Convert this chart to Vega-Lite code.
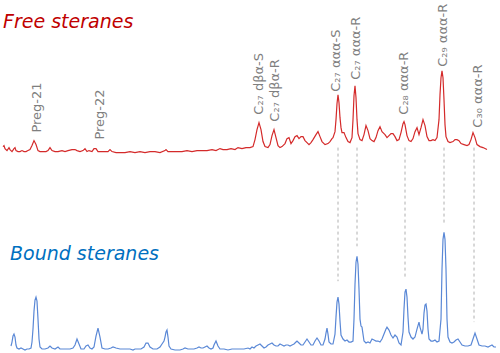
{
  "$schema": "https://vega.github.io/schema/vega-lite/v6.json",
  "width": 500,
  "height": 353,
  "padding": 0,
  "autosize": {"type": "fit", "contains": "padding"},
  "config": {"view": {"stroke": null}},
  "datasets": {
    "free": [
      {"t":3,"v":206},{"t":4,"v":207},{"t":5,"v":204},{"t":7,"v":202},{"t":9,"v":205},{"t":10,"v":203},{"t":12,"v":201},{"t":14,"v":204},{"t":15,"v":205},{"t":16,"v":202},{"t":18,"v":201},{"t":20,"v":201},{"t":22,"v":202},{"t":24,"v":201},{"t":26,"v":201},{"t":28,"v":202},{"t":30,"v":203},{"t":32,"v":207},{"t":34,"v":212},{"t":36,"v":208},{"t":38,"v":202},{"t":40,"v":201},{"t":43,"v":201},{"t":46,"v":201},{"t":48,"v":202},{"t":50,"v":205},{"t":52,"v":202},{"t":55,"v":201},{"t":58,"v":201},{"t":62,"v":202},{"t":65,"v":201},{"t":68,"v":202},{"t":72,"v":203},{"t":75,"v":203},{"t":77,"v":202},{"t":80,"v":201},{"t":83,"v":202},{"t":85,"v":204},{"t":87,"v":201},{"t":89,"v":202},{"t":92,"v":201},{"t":94,"v":204},{"t":96,"v":204},{"t":98,"v":201},{"t":100,"v":201},{"t":104,"v":201},{"t":108,"v":201},{"t":110,"v":203},{"t":112,"v":201},{"t":116,"v":200},{"t":120,"v":200},{"t":125,"v":200},{"t":130,"v":201},{"t":135,"v":200},{"t":140,"v":201},{"t":145,"v":200},{"t":150,"v":201},{"t":155,"v":201},{"t":160,"v":200},{"t":165,"v":202},{"t":166,"v":203},{"t":168,"v":201},{"t":172,"v":201},{"t":177,"v":201},{"t":182,"v":201},{"t":187,"v":202},{"t":192,"v":201},{"t":197,"v":202},{"t":202,"v":202},{"t":207,"v":202},{"t":212,"v":203},{"t":216,"v":202},{"t":220,"v":204},{"t":223,"v":203},{"t":227,"v":203},{"t":231,"v":204},{"t":235,"v":203},{"t":238,"v":205},{"t":242,"v":204},{"t":246,"v":205},{"t":250,"v":205},{"t":253,"v":206},{"t":255,"v":213},{"t":257,"v":223},{"t":259,"v":230},{"t":261,"v":223},{"t":263,"v":211},{"t":265,"v":206},{"t":268,"v":205},{"t":270,"v":208},{"t":272,"v":217},{"t":274,"v":223},{"t":276,"v":215},{"t":278,"v":207},{"t":280,"v":205},{"t":282,"v":206},{"t":285,"v":209},{"t":287,"v":214},{"t":289,"v":215},{"t":291,"v":209},{"t":293,"v":212},{"t":295,"v":216},{"t":297,"v":217},{"t":299,"v":214},{"t":301,"v":216},{"t":303,"v":216},{"t":305,"v":212},{"t":307,"v":210},{"t":309,"v":208},{"t":311,"v":210},{"t":313,"v":213},{"t":316,"v":218},{"t":318,"v":221},{"t":320,"v":216},{"t":322,"v":211},{"t":325,"v":208},{"t":328,"v":209},{"t":330,"v":211},{"t":332,"v":214},{"t":333,"v":215},{"t":335,"v":221},{"t":336,"v":233},{"t":337,"v":249},{"t":338,"v":258},{"t":339,"v":250},{"t":340,"v":235},{"t":341,"v":225},{"t":342,"v":220},{"t":344,"v":220},{"t":346,"v":215},{"t":348,"v":211},{"t":350,"v":210},{"t":352,"v":215},{"t":353,"v":233},{"t":354,"v":257},{"t":355,"v":267},{"t":356,"v":255},{"t":357,"v":233},{"t":358,"v":219},{"t":360,"v":213},{"t":362,"v":212},{"t":364,"v":218},{"t":366,"v":227},{"t":368,"v":222},{"t":370,"v":214},{"t":372,"v":212},{"t":374,"v":211},{"t":376,"v":215},{"t":378,"v":222},{"t":380,"v":226},{"t":382,"v":221},{"t":384,"v":219},{"t":385,"v":218},{"t":387,"v":215},{"t":389,"v":217},{"t":391,"v":219},{"t":393,"v":219},{"t":395,"v":216},{"t":397,"v":212},{"t":399,"v":213},{"t":401,"v":220},{"t":403,"v":229},{"t":404,"v":231},{"t":405,"v":228},{"t":407,"v":217},{"t":409,"v":212},{"t":411,"v":211},{"t":413,"v":214},{"t":415,"v":221},{"t":417,"v":225},{"t":419,"v":218},{"t":421,"v":225},{"t":423,"v":233},{"t":425,"v":227},{"t":427,"v":216},{"t":429,"v":212},{"t":431,"v":212},{"t":433,"v":213},{"t":435,"v":212},{"t":437,"v":215},{"t":439,"v":233},{"t":440,"v":258},{"t":441,"v":275},{"t":442,"v":282},{"t":443,"v":275},{"t":444,"v":253},{"t":445,"v":228},{"t":446,"v":216},{"t":448,"v":211},{"t":450,"v":210},{"t":453,"v":211},{"t":455,"v":213},{"t":457,"v":213},{"t":459,"v":212},{"t":461,"v":209},{"t":464,"v":208},{"t":467,"v":207},{"t":469,"v":208},{"t":471,"v":213},{"t":473,"v":220},{"t":475,"v":215},{"t":477,"v":208},{"t":480,"v":206},{"t":483,"v":205},{"t":487,"v":203}
    ],
    "bound": [
      {"t":11,"v":6},{"t":12,"v":10},{"t":13,"v":16},{"t":14,"v":18},{"t":15,"v":15},{"t":16,"v":7},{"t":17,"v":4},{"t":19,"v":3},{"t":21,"v":4},{"t":23,"v":3},{"t":25,"v":2},{"t":27,"v":3},{"t":29,"v":3},{"t":31,"v":4},{"t":32,"v":10},{"t":33,"v":23},{"t":34,"v":41},{"t":35,"v":52},{"t":36,"v":55},{"t":37,"v":51},{"t":38,"v":33},{"t":39,"v":13},{"t":40,"v":5},{"t":42,"v":3},{"t":45,"v":3},{"t":48,"v":4},{"t":50,"v":6},{"t":52,"v":4},{"t":55,"v":3},{"t":58,"v":5},{"t":60,"v":3},{"t":63,"v":3},{"t":67,"v":3},{"t":70,"v":3},{"t":73,"v":4},{"t":75,"v":7},{"t":77,"v":13},{"t":79,"v":8},{"t":81,"v":3},{"t":84,"v":3},{"t":86,"v":6},{"t":88,"v":7},{"t":90,"v":4},{"t":92,"v":3},{"t":94,"v":5},{"t":96,"v":16},{"t":98,"v":24},{"t":100,"v":15},{"t":102,"v":4},{"t":105,"v":3},{"t":108,"v":3},{"t":111,"v":4},{"t":113,"v":5},{"t":116,"v":4},{"t":120,"v":3},{"t":125,"v":3},{"t":130,"v":3},{"t":133,"v":2},{"t":135,"v":3},{"t":138,"v":3},{"t":141,"v":3},{"t":144,"v":5},{"t":146,"v":9},{"t":148,"v":9},{"t":150,"v":5},{"t":153,"v":3},{"t":157,"v":3},{"t":160,"v":5},{"t":162,"v":8},{"t":164,"v":11},{"t":165,"v":15},{"t":166,"v":20},{"t":167,"v":22},{"t":168,"v":15},{"t":169,"v":6},{"t":171,"v":3},{"t":175,"v":2},{"t":180,"v":2},{"t":183,"v":3},{"t":185,"v":4},{"t":188,"v":3},{"t":191,"v":3},{"t":194,"v":3},{"t":197,"v":4},{"t":199,"v":5},{"t":201,"v":4},{"t":203,"v":4},{"t":205,"v":5},{"t":207,"v":6},{"t":209,"v":4},{"t":211,"v":3},{"t":213,"v":4},{"t":214,"v":7},{"t":216,"v":11},{"t":218,"v":6},{"t":220,"v":3},{"t":224,"v":3},{"t":228,"v":2},{"t":232,"v":3},{"t":236,"v":3},{"t":240,"v":3},{"t":244,"v":3},{"t":248,"v":4},{"t":250,"v":3},{"t":252,"v":5},{"t":254,"v":4},{"t":256,"v":6},{"t":258,"v":7},{"t":260,"v":8},{"t":262,"v":6},{"t":264,"v":4},{"t":266,"v":5},{"t":268,"v":7},{"t":270,"v":8},{"t":272,"v":9},{"t":274,"v":7},{"t":276,"v":6},{"t":278,"v":6},{"t":280,"v":8},{"t":282,"v":7},{"t":284,"v":6},{"t":286,"v":7},{"t":288,"v":7},{"t":290,"v":6},{"t":292,"v":7},{"t":294,"v":8},{"t":296,"v":10},{"t":297,"v":11},{"t":299,"v":9},{"t":301,"v":7},{"t":303,"v":7},{"t":305,"v":10},{"t":307,"v":13},{"t":309,"v":10},{"t":311,"v":7},{"t":313,"v":7},{"t":315,"v":11},{"t":317,"v":14},{"t":319,"v":11},{"t":321,"v":7},{"t":323,"v":7},{"t":325,"v":13},{"t":326,"v":19},{"t":327,"v":24},{"t":328,"v":18},{"t":329,"v":10},{"t":331,"v":8},{"t":333,"v":8},{"t":335,"v":18},{"t":336,"v":35},{"t":337,"v":50},{"t":338,"v":55},{"t":339,"v":48},{"t":340,"v":31},{"t":341,"v":17},{"t":343,"v":13},{"t":345,"v":11},{"t":347,"v":12},{"t":349,"v":10},{"t":351,"v":10},{"t":353,"v":11},{"t":354,"v":33},{"t":355,"v":68},{"t":356,"v":90},{"t":357,"v":96},{"t":358,"v":88},{"t":359,"v":63},{"t":360,"v":33},{"t":361,"v":26},{"t":362,"v":25},{"t":363,"v":18},{"t":364,"v":11},{"t":366,"v":9},{"t":368,"v":10},{"t":370,"v":9},{"t":372,"v":13},{"t":374,"v":12},{"t":376,"v":11},{"t":378,"v":11},{"t":380,"v":10},{"t":382,"v":13},{"t":384,"v":18},{"t":386,"v":23},{"t":387,"v":25},{"t":389,"v":22},{"t":391,"v":17},{"t":393,"v":14},{"t":395,"v":17},{"t":397,"v":15},{"t":399,"v":9},{"t":401,"v":7},{"t":403,"v":20},{"t":404,"v":43},{"t":405,"v":60},{"t":406,"v":63},{"t":407,"v":55},{"t":408,"v":35},{"t":409,"v":20},{"t":411,"v":15},{"t":413,"v":13},{"t":415,"v":15},{"t":417,"v":23},{"t":419,"v":30},{"t":420,"v":25},{"t":422,"v":18},{"t":423,"v":23},{"t":424,"v":39},{"t":425,"v":47},{"t":426,"v":48},{"t":427,"v":41},{"t":428,"v":23},{"t":429,"v":13},{"t":431,"v":11},{"t":433,"v":11},{"t":435,"v":12},{"t":437,"v":10},{"t":439,"v":11},{"t":441,"v":33},{"t":442,"v":83},{"t":443,"v":113},{"t":444,"v":120},{"t":445,"v":113},{"t":446,"v":83},{"t":447,"v":33},{"t":448,"v":15},{"t":450,"v":10},{"t":452,"v":9},{"t":454,"v":10},{"t":456,"v":12},{"t":458,"v":13},{"t":460,"v":10},{"t":462,"v":7},{"t":465,"v":6},{"t":468,"v":6},{"t":471,"v":7},{"t":473,"v":13},{"t":475,"v":19},{"t":477,"v":13},{"t":479,"v":7},{"t":482,"v":6},{"t":485,"v":6},{"t":488,"v":5},{"t":490,"v":6},{"t":492,"v":7},{"t":494,"v":5},{"t":496,"v":5}
    ],
    "links": [
      {"t":338,"top":205,"bottom":71},
      {"t":357,"top":205,"bottom":106},
      {"t":405,"top":205,"bottom":73},
      {"t":444,"top":205,"bottom":128},
      {"t":474,"top":205,"bottom":30}
    ],
    "peaks": [
      {"t":37,"v":220,"label":"Preg-21"},
      {"t":100,"v":213,"label":"Preg-22"},
      {"t":259,"v":238,"label":"C₂₇ dβα-S"},
      {"t":275,"v":231,"label":"C₂₇ dβα-R"},
      {"t":336,"v":261,"label":"C₂₇ ααα-S"},
      {"t":356,"v":273,"label":"C₂₇ ααα-R"},
      {"t":404,"v":238,"label":"C₂₈ ααα-R"},
      {"t":443,"v":286,"label":"C₂₉ ααα-R"},
      {"t":478,"v":225,"label":"C₃₀ ααα-R"}
    ],
    "titles": [
      {"t":3,"v":325,"label":"Free steranes","series":"free"},
      {"t":10,"v":92,"label":"Bound steranes","series":"bound"}
    ]
  },
  "layer": [
    {
      "data": {"name": "links"},
      "mark": {"type": "rule", "color": "#b0b0b0", "strokeWidth": 1, "strokeDash": [3, 3]},
      "encoding": {
        "x": {"field": "t", "type": "quantitative", "scale": {"domain": [0, 500], "nice": false, "zero": false}, "axis": null},
        "y": {"field": "top", "type": "quantitative", "scale": {"domain": [0, 353], "nice": false}, "axis": null},
        "y2": {"field": "bottom"}
      }
    },
    {
      "data": {"name": "free"},
      "mark": {"type": "line", "color": "#d42a2a", "strokeWidth": 1.2},
      "encoding": {
        "x": {"field": "t", "type": "quantitative", "scale": {"domain": [0, 500], "nice": false, "zero": false}, "axis": null},
        "y": {"field": "v", "type": "quantitative", "scale": {"domain": [0, 353], "nice": false}, "axis": null}
      }
    },
    {
      "data": {"name": "bound"},
      "mark": {"type": "line", "color": "#5a88d6", "strokeWidth": 1.2},
      "encoding": {
        "x": {"field": "t", "type": "quantitative", "scale": {"domain": [0, 500], "nice": false, "zero": false}, "axis": null},
        "y": {"field": "v", "type": "quantitative", "scale": {"domain": [0, 353], "nice": false}, "axis": null}
      }
    },
    {
      "data": {"name": "peaks"},
      "mark": {"type": "text", "angle": 270, "align": "left", "baseline": "middle", "font": "DejaVu Sans", "fontSize": 13, "color": "#7f7f7f"},
      "encoding": {
        "x": {"field": "t", "type": "quantitative", "scale": {"domain": [0, 500], "nice": false, "zero": false}, "axis": null},
        "y": {"field": "v", "type": "quantitative", "scale": {"domain": [0, 353], "nice": false}, "axis": null},
        "text": {"field": "label"}
      }
    },
    {
      "data": {"name": "titles"},
      "mark": {"type": "text", "align": "left", "baseline": "alphabetic", "font": "DejaVu Sans", "fontSize": 19, "fontStyle": "italic"},
      "encoding": {
        "x": {"field": "t", "type": "quantitative", "scale": {"domain": [0, 500], "nice": false, "zero": false}, "axis": null},
        "y": {"field": "v", "type": "quantitative", "scale": {"domain": [0, 353], "nice": false}, "axis": null},
        "text": {"field": "label"},
        "color": {"field": "series", "type": "nominal", "scale": {"domain": ["free", "bound"], "range": ["#c00000", "#0070c0"]}, "legend": null}
      }
    }
  ]
}
